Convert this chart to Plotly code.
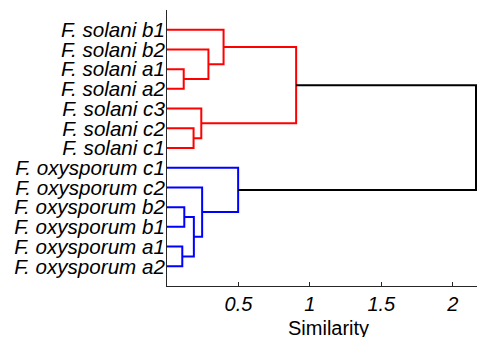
import plotly.graph_objects as go

# Leaves, bottom (position 1) to top (position 13)
leaf_labels = [
    "F. oxysporum a2", "F. oxysporum a1", "F. oxysporum b1", "F. oxysporum b2",
    "F. oxysporum c2", "F. oxysporum c1",
    "F. solani c1", "F. solani c2", "F. solani c3",
    "F. solani a2", "F. solani a1", "F. solani b2", "F. solani b1",
]
n_leaves = len(leaf_labels)

# Linkage: nodes 0..12 are leaves, new clusters numbered from 13 upward
merge_left = [0, 2, 9, 6, 13, 16, 17, 15, 20, 19, 18, 22]
merge_right = [1, 3, 10, 7, 14, 8, 4, 11, 12, 5, 21, 23]
merge_height = [0.107, 0.121, 0.117, 0.186, 0.188, 0.240, 0.246, 0.290, 0.396, 0.498, 0.904, 2.163]
merge_color = ["blue", "blue", "red", "red", "blue", "red", "blue", "red", "red", "blue", "red", "black"]

x_ticks = [0.5, 1, 1.5, 2]

# node positions / heights
pos = {i: float(i + 1) for i in range(n_leaves)}
hgt = {i: 0.0 for i in range(n_leaves)}
segs = {"red": ([], []), "blue": ([], []), "black": ([], [])}
for k, (a, b, h, c) in enumerate(zip(merge_left, merge_right, merge_height, merge_color)):
    node = n_leaves + k
    pos[node] = (pos[a] + pos[b]) / 2
    hgt[node] = h
    xs, ys = segs[c]
    xs += [hgt[a], h, h, hgt[b], None]
    ys += [pos[a], pos[a], pos[b], pos[b], None]

fig = go.Figure()
for c, (xs, ys) in segs.items():
    fig.add_trace(go.Scatter(x=xs, y=ys, mode="lines",
                             line=dict(color=c, width=2), hoverinfo="skip",
                             showlegend=False))

font = "Liberation Sans, Arial, Helvetica, sans-serif"
fig.update_layout(
    width=478, height=337,
    margin=dict(l=167, r=1, t=10, b=51),
    paper_bgcolor="white", plot_bgcolor="white",
    font=dict(family=font, size=20, color="black"),
)
fig.update_xaxes(
    range=[0, 2.17], tickvals=x_ticks, ticktext=[str(v) for v in x_ticks],
    ticks="inside", ticklen=4, tickcolor="#262626", tickwidth=1,
    showline=True, linecolor="#262626", linewidth=1, mirror=False,
    showgrid=False, zeroline=False,
    tickfont=dict(family=font, size=20, style="italic", color="black"),
)
fig.update_yaxes(
    range=[0, n_leaves + 1], tickvals=list(range(1, n_leaves + 1)), ticktext=leaf_labels,
    ticks="", showline=True, linecolor="#262626", linewidth=1,
    showgrid=False, zeroline=False, ticklabelstandoff=-3,
    tickfont=dict(family=font, size=20.6, style="italic", color="black"),
)
fig.add_annotation(text="Similarity", xref="paper", yref="paper", x=0.5216, y=0,
                   xanchor="center", yanchor="middle", yshift=-42, showarrow=False,
                   font=dict(family=font, size=20, color="black"))
# remove the default page margin so the 478x337 figure fills the window exactly
fig.write_html("out.html", config={"displayModeBar": False},
               post_script="document.body.style.margin='0';document.body.style.overflow='hidden';")
